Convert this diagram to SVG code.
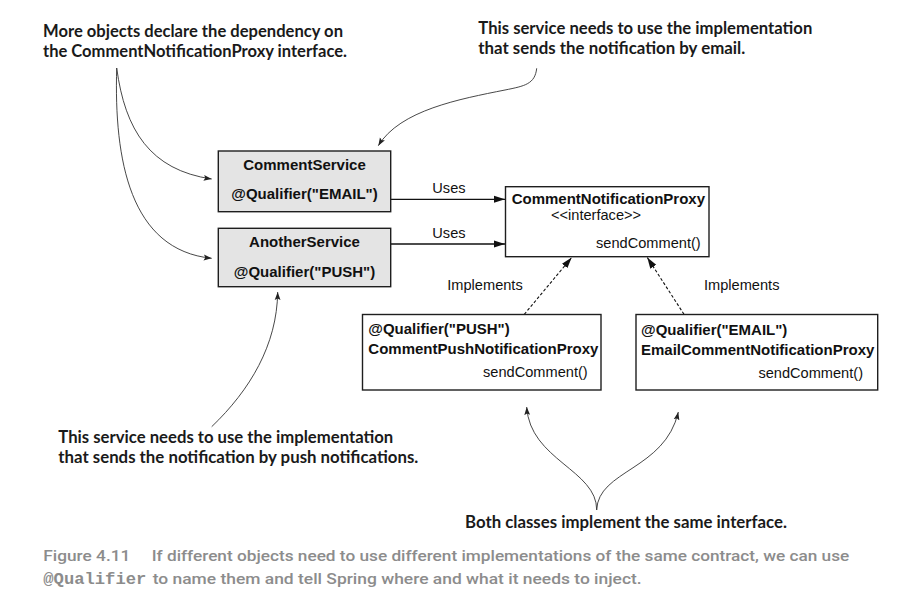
<svg xmlns="http://www.w3.org/2000/svg" width="907" height="601" viewBox="0 0 907 601">
<style>
.box{fill:#fff;stroke:#1e1e1e;stroke-width:1.4}
.svc{fill:#e4e4e4;stroke:#1e1e1e;stroke-width:1.4}
.b{font-family:"Liberation Sans",Arial,sans-serif;font-weight:bold;font-size:15px;fill:#111}
.r{font-family:"Liberation Sans",Arial,sans-serif;font-size:14.6px;fill:#111}
.ann{font-family:Lato,"Noto Sans",sans-serif;font-weight:bold;font-size:16.5px;fill:#1a1a1a}
.cap{font-family:Roboto,"Liberation Sans",sans-serif;font-weight:500;font-size:14px;fill:#8c8c8c}
.mono{font-family:"Liberation Mono","Courier New",monospace;font-weight:bold;font-size:16px;fill:#8c8c8c}
.con{fill:none;stroke:#111;stroke-width:1.3}
.dash{fill:none;stroke:#111;stroke-width:1.1;stroke-dasharray:3 2}
.thin{fill:none;stroke:#333;stroke-width:0.9}
</style>
<defs>
<marker id="arr" markerUnits="userSpaceOnUse" markerWidth="12" markerHeight="8" refX="11" refY="4" orient="auto">
<path d="M0,0.5 L11,4 L0,7.5 Z" fill="#111"/>
</marker>
<marker id="sm" markerUnits="userSpaceOnUse" markerWidth="9" markerHeight="7" refX="8" refY="3.5" orient="auto">
<path d="M0,0.6 L8,3.5 L0,6.4 L1.5,3.5 Z" fill="#222"/>
</marker>
</defs>

<g id="connectors">
<path class="con" d="M390.7,199.3 L505,199.3" marker-end="url(#arr)"/>
<path class="con" d="M390.7,244 L505,244" marker-end="url(#arr)"/>
<path class="dash" d="M524.3,314.3 L571.7,257.5" marker-end="url(#arr)"/>
<path class="dash" d="M684,314.3 L647.3,257.5" marker-end="url(#arr)"/>
<text class="r" x="432.3" y="192.7">Uses</text>
<text class="r" x="432.3" y="237.5">Uses</text>
<text class="r" x="447.3" y="289.5">Implements</text>
<text class="r" x="704" y="289.5">Implements</text>
</g>

<g id="annotation-arrows">
<path class="thin" d="M116.7,68 C125,130 150,170 211.7,179" marker-end="url(#sm)"/>
<path class="thin" d="M116.7,68 C114,160 130,250 211.7,258.3" marker-end="url(#sm)"/>
<path class="thin" d="M536.7,68.3 C535,84 525,86 505,90 C460,99 400,110 378.3,145.7" marker-end="url(#sm)"/>
<path class="thin" d="M211.7,426.7 C250,390 277,345 277.7,292" marker-end="url(#sm)"/>
<path class="thin" d="M596.7,510 C597,470 530,460 526.7,407" marker-end="url(#sm)"/>
<path class="thin" d="M596.7,510 C598,470 665,470 678.3,412" marker-end="url(#sm)"/>
</g>

<g id="comment-service">
<rect class="svc" x="218.3" y="151" width="172.4" height="60.7"/>
<text class="b" x="304.5" y="170" text-anchor="middle">CommentService</text>
<text class="b" x="304.5" y="199.3" text-anchor="middle">@Qualifier("EMAIL")</text>
</g>

<g id="another-service">
<rect class="svc" x="218.3" y="228.3" width="172.4" height="58.4"/>
<text class="b" x="304.5" y="247.3" text-anchor="middle">AnotherService</text>
<text class="b" x="304.5" y="276.7" text-anchor="middle">@Qualifier("PUSH")</text>
</g>

<g id="comment-notification-proxy">
<rect class="box" x="505.5" y="186.7" width="203.5" height="70"/>
<text class="b" x="511.7" y="204">CommentNotificationProxy</text>
<text class="r" x="551" y="220">&lt;&lt;interface&gt;&gt;</text>
<text class="r" x="700.7" y="248.3" text-anchor="end">sendComment()</text>
</g>

<g id="push-proxy">
<rect class="box" x="362.5" y="314.5" width="238.5" height="75.5"/>
<text class="b" x="368.3" y="334">@Qualifier("PUSH")</text>
<text class="b" x="368.3" y="354">CommentPushNotificationProxy</text>
<text class="r" x="587.7" y="377" text-anchor="end">sendComment()</text>
</g>

<g id="email-proxy">
<rect class="box" x="636" y="314.5" width="241.7" height="75.5"/>
<text class="b" x="641" y="334.5">@Qualifier("EMAIL")</text>
<text class="b" x="641" y="355">EmailCommentNotificationProxy</text>
<text class="r" x="863" y="377.5" text-anchor="end">sendComment()</text>
</g>

<g id="annotations">
<text class="ann" x="43" y="36.7" textLength="300" lengthAdjust="spacingAndGlyphs">More objects declare the dependency on</text>
<text class="ann" x="43" y="56.7" textLength="304" lengthAdjust="spacingAndGlyphs">the CommentNotificationProxy interface.</text>
<text class="ann" x="478.3" y="34.3" textLength="334" lengthAdjust="spacingAndGlyphs">This service needs to use the implementation</text>
<text class="ann" x="478.3" y="53.5" textLength="267" lengthAdjust="spacingAndGlyphs">that sends the notification by email.</text>
<text class="ann" x="58.3" y="443" textLength="335" lengthAdjust="spacingAndGlyphs">This service needs to use the implementation</text>
<text class="ann" x="58.3" y="463" textLength="360" lengthAdjust="spacingAndGlyphs">that sends the notification by push notifications.</text>
<text class="ann" x="465" y="528.3" textLength="322" lengthAdjust="spacingAndGlyphs">Both classes implement the same interface.</text>
</g>

<g id="caption">
<text class="cap" x="43.3" y="560.5" textLength="87" lengthAdjust="spacingAndGlyphs">Figure 4.11</text>
<text class="cap" x="151.7" y="560.5" textLength="697.6" lengthAdjust="spacingAndGlyphs">If different objects need to use different implementations of the same contract, we can use</text>
<text class="mono" x="43.3" y="584" textLength="103" lengthAdjust="spacingAndGlyphs">@Qualifier</text>
<text class="cap" x="152.7" y="584" textLength="489" lengthAdjust="spacingAndGlyphs">to name them and tell Spring where and what it needs to inject.</text>
</g>
</svg>
